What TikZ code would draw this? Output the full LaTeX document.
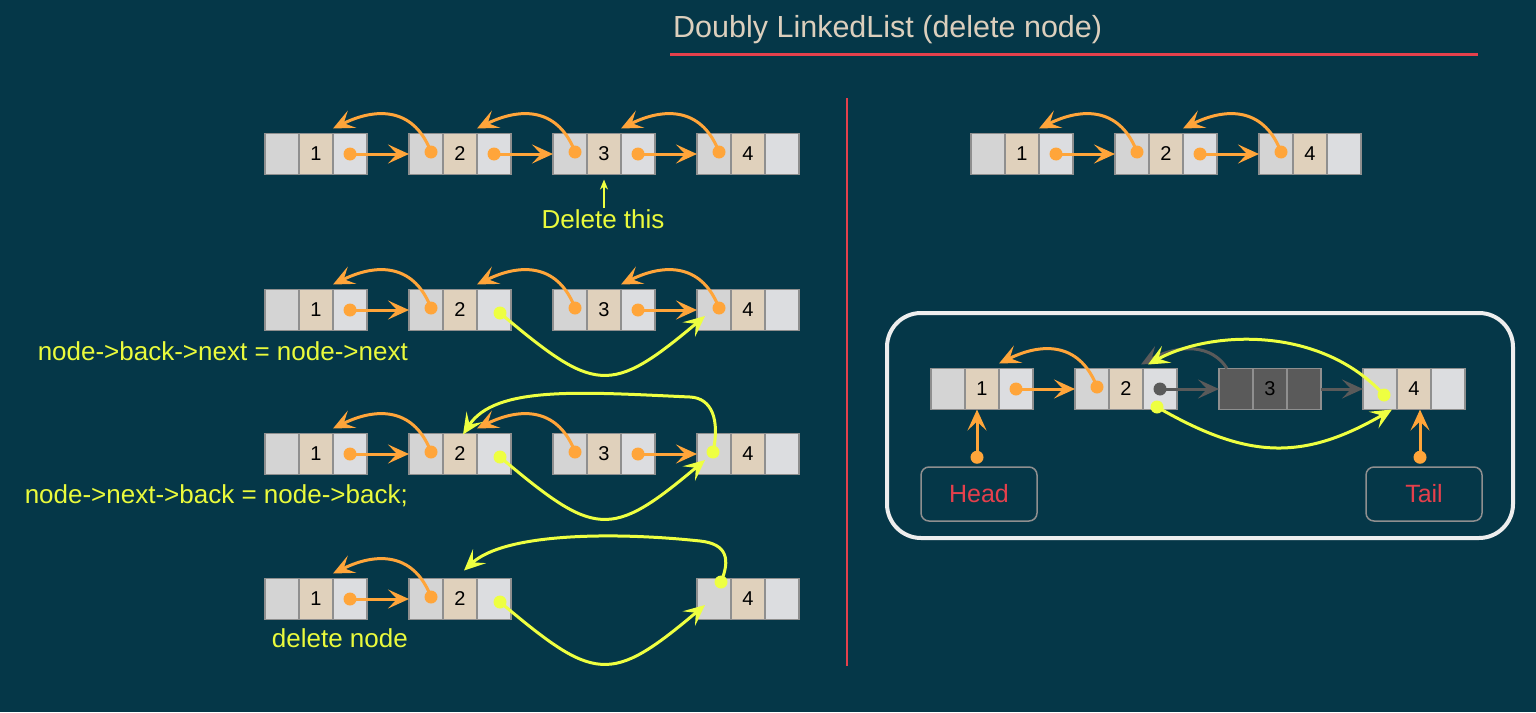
\documentclass[tikz,border=0pt]{standalone}
\usepackage{fontspec}
\setmainfont{Liberation Sans}
\usetikzlibrary{arrows.meta, calc, positioning}

\definecolor{bgblue}{HTML}{053748}
\definecolor{ptrorange}{HTML}{FFA53A}
\definecolor{ptryellow}{HTML}{EEFF41}
\definecolor{txtyellow}{HTML}{EAFA3C}
\definecolor{linered}{HTML}{E5404C}
\definecolor{titlebeige}{HTML}{DCCFBD}
\definecolor{cellgray}{HTML}{D4D4D4}
\definecolor{celltan}{HTML}{E0D1BC}
\definecolor{celllight}{HTML}{DCDDE0}
\definecolor{cellborder}{HTML}{8F8F8F}
\definecolor{deadgray}{HTML}{5A5A5A}
\definecolor{boxwhite}{HTML}{EEEEEE}

\tikzset{
  cell/.style={draw=cellborder, line width=1.5pt, minimum width=34pt, minimum height=41pt,
    inner sep=0pt, outer sep=0pt, font=\fontsize{20}{20}\selectfont},
  backcell/.style={cell, fill=cellgray},
  valcell/.style={cell, fill=celltan},
  nextcell/.style={cell, fill=celllight},
  tip/.style={-{Stealth[length=21pt, width=19pt, inset=9pt]}},
  optr/.style={ptrorange, line width=3pt, tip},
  yptr/.style={ptryellow, line width=3pt, tip},
  gptr/.style={deadgray, line width=3pt, tip},
  lbl/.style={txtyellow, inner sep=1pt, font=\fontsize{26}{30}\selectfont},
  endbox/.style={draw=cellborder, line width=1.5pt, rounded corners=8pt, minimum width=116pt,
    minimum height=54pt, text=linered, font=\fontsize{25}{30}\selectfont}
}

% one list node: back cell, value cell, next cell
\newcommand{\dllnode}[4][]{%
  \node[valcell, #1] (#2v) at (#3) {#4};
  \node[backcell, #1, left=0pt of #2v] (#2b) {};
  \node[nextcell, #1, right=0pt of #2v] (#2n) {};
}

\begin{document}
\begin{tikzpicture}[x=1pt, y=-1pt]
  \fill[bgblue] (0,0) rectangle (1536,712);
  \useasboundingbox (0,0) rectangle (1536,712);

  \node[anchor=base west, inner sep=0pt, text=titlebeige, font=\fontsize{30.5}{36}\selectfont]
    (title) at (673,37) {Doubly LinkedList (delete node)};
  \draw[linered, line width=3pt] (670,54) -- (1478,54);
  \draw[linered, line width=2.5pt] (847,98) -- (847,666);

  % the lists
  \foreach \i/\x in {1/316, 2/460, 3/604, 4/748} {
    \dllnode{a\i}{\x,154}{\i}
    \dllnode{b\i}{\x,310}{\i}
    \dllnode{c\i}{\x,454}{\i}
  }
  \foreach \i/\x in {1/316, 2/460, 4/748} {\dllnode{d\i}{\x,599}{\i}}
  \foreach \i/\x in {1/1022, 2/1166, 4/1310} {\dllnode{e\i}{\x,154}{\i}}
  \foreach \i/\x in {1/982, 2/1126, 4/1414} {\dllnode{f\i}{\x,389}{\i}}
  \dllnode[fill=deadgray]{f3}{1270,389}{3}

  \draw[boxwhite, line width=4pt, rounded corners=34pt] (887,313) rectangle (1513,538);

  % next links
  \foreach \s/\i/\j in {a/1/2, a/2/3, a/3/4, b/1/2, b/3/4, c/1/2, c/3/4, d/1/2, e/1/2, e/2/4, f/1/2} {
    \draw[optr] (\s\i n.center) -- (\s\j b.west);
    \fill[ptrorange] (\s\i n.center) circle [radius=6.5pt];
  }

  % back links
  \foreach \s/\i/\j in {a/2/1, a/3/2, a/4/3, b/2/1, b/3/2, b/4/3, c/2/1, c/3/2, d/2/1, e/2/1, e/4/2, f/2/1} {
    \coordinate (dot) at ($(\s\i b.center)+(5,-2)$);
    \draw[optr] (dot) .. controls +(-16,-42) and +(47,-23) .. ($(\s\j n.north west)+(0,-5)$);
    \fill[ptrorange] (dot) circle [radius=6.5pt];
  }

  % new links after the delete
  \foreach \s in {b, c, d} {
    \coordinate (ydot) at ($(\s2n.center)+(6,3)$);
    \draw[yptr] (ydot) .. controls +(95,80) and +(-95,80) .. ($(\s4b.center)+(-9,6)$);
    \fill[ptryellow] (ydot) circle [radius=6.5pt];
  }
  \draw[yptr] ($(c4b.center)+(-1,-2)$) .. controls +(7,-32) and +(22,1) .. ($(c4b.center)+(-24,-57)$)
    .. controls +(-110,-5) and +(32,-49) .. ($(c2v.north)+(3,1)$);
  \fill[ptryellow] ($(c4b.center)+(-1,-2)$) circle [radius=6.5pt];
  \draw[yptr] ($(d4b.center)+(7,-17)$) .. controls +(9,-22) and +(28,3) .. ($(d4b.center)+(-14,-58)$)
    .. controls +(-84,-9) and +(41,-38) .. ($(d2v.north)+(4,-8)$);
  \fill[ptryellow] ($(d4b.center)+(7,-17)$) circle [radius=6.5pt];

  \node[lbl, anchor=base] (delthis) at (603,228) {Delete this};
  \draw[ptryellow, line width=1.5pt, -{Stealth[length=10pt, width=8pt, inset=3pt]}, shorten >=5pt]
    (delthis.north -| a3v.south) -- (a3v.south);
  \node[lbl, anchor=base east] (cmdnext) at (409,360) {node->back->next = node->next};
  \node[lbl, anchor=base east] (cmdback) at (409,503) {node->next->back = node->back;};
  \node[lbl, anchor=base east] (cmddel) at (409,647) {delete node};

  % the box: node 3 unlinked
  \draw[gptr] (f2n.center) -- (f3b.west);
  \fill[deadgray] (f2n.center) circle [radius=6.5pt];
  \draw[gptr] (f3n.east) -- (f4b.west);
  \draw[gptr] ($(f3b.north)+(-9,0)$) .. controls +(-15,-24) and +(39,-21) .. ($(f2n.north west)+(-2,-4)$);

  \coordinate (fdot) at ($(f4b.center)+(4,6)$);
  \draw[yptr] (fdot) .. controls +(-64,-70) and +(62,-34) .. ($(f2n.north west)+(5,-4)$);
  \fill[ptryellow] (fdot) circle [radius=6.5pt];
  \coordinate (gdot) at ($(f2n.center)+(-3,18)$);
  \draw[yptr] (gdot) .. controls +(90,52) and +(-90,52) .. ($(f4b.south east)+(-5,0)$);
  \fill[ptryellow] (gdot) circle [radius=6.5pt];

  \node[endbox] (head) at (979,494) {Head};
  \node[endbox] (tail) at (1424,494) {Tail};
  \coordinate (hdot) at ($(head.north)+(-2,-9)$);
  \coordinate (tdot) at ($(tail.north)+(-4,-9)$);
  \draw[optr] (hdot) -- (hdot |- f1v.south);
  \draw[optr] (tdot) -- (tdot |- f4v.south);
  \fill[ptrorange] (hdot) circle [radius=6.5pt] (tdot) circle [radius=6.5pt];
\end{tikzpicture}
\end{document}
